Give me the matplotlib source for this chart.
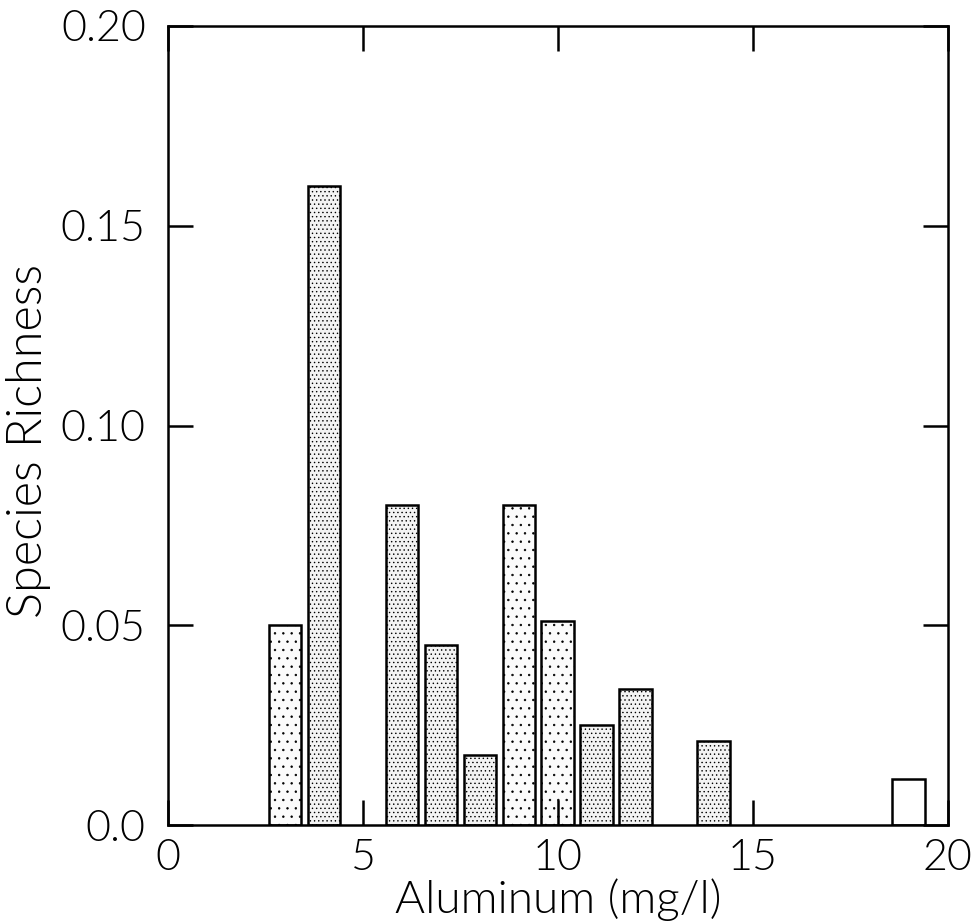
import numpy as np
import matplotlib
matplotlib.use("Agg")
import matplotlib.pyplot as plt

# species richness per aluminum concentration class
aluminum = [3, 4, 6, 7, 8, 9, 10, 11, 12, 14, 19]
richness = [0.050, 0.160, 0.080, 0.045, 0.0175, 0.080, 0.051, 0.025, 0.034, 0.021, 0.0115]
# stipple density of each bar: 2 dense, 1 sparse, 0 open
shade = [1, 2, 2, 2, 2, 1, 1, 2, 2, 2, 0]

xticks = [0, 5, 10, 15, 20]
yticks = [0.0, 0.05, 0.10, 0.15, 0.20]
yticklabels = ["0.0", "0.05", "0.10", "0.15", "0.20"]

plt.rcParams['font.family'] = ['Lato', 'DejaVu Sans']
plt.rcParams['font.weight'] = 300
plt.rcParams['axes.labelweight'] = 300
plt.rcParams['hatch.linewidth'] = 0.5
plt.rcParams['hatch.color'] = '#b4b4b4'

fig = plt.figure(figsize=(9.77, 9.24), dpi=100)
ax = fig.add_axes([0.172, 0.107, 0.798, 0.865])

faces = {0: 'white', 1: '#fbfbfb', 2: '#f3f3f3'}
hatches = {0: None, 1: '..', 2: '....'}
for x, h, s in zip(aluminum, richness, shade):
    ax.bar(x, h, width=0.84, facecolor=faces[s], edgecolor='black',
           linewidth=1.8, hatch=hatches[s])

ax.set_xlim(0, 20)
ax.set_ylim(0, 0.20)
ax.set_xticks(xticks)
ax.set_yticks(yticks)
ax.set_yticklabels(yticklabels)
ax.tick_params(direction='in', length=18, width=1.8, labelsize=31,
               top=True, right=True, pad=10)
ax.tick_params(axis='y', pad=16)
for sp in ax.spines.values():
    sp.set_linewidth(1.8)

ax.set_xlabel("Aluminum (mg/l)", fontsize=33, labelpad=0)
ax.set_ylabel("Species Richness", fontsize=35)
ax.yaxis.set_label_coords(-0.15, 0.48)

fig.savefig("out.png", dpi=100)
